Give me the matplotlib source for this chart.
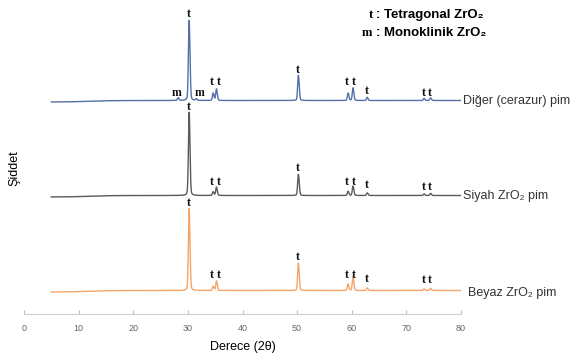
import numpy as np
import matplotlib.pyplot as plt

plt.rcParams['font.family'] = ['Liberation Sans', 'DejaVu Sans']

# peak positions (2 theta) and heights for the three patterns
peaks = [28.2, 30.2, 31.5, 34.6, 35.2, 50.2, 59.3, 60.2, 62.8, 73.2, 74.4]
h_diger = [2.5, 76, 1.5, 7, 11, 24, 7, 12, 3, 2, 2.5]
h_siyah = [0, 79, 0, 3.5, 8, 20, 4, 9, 2.5, 1.5, 2]
h_beyaz = [0, 78, 0, 4, 9, 26, 6, 13, 2.5, 1.5, 2]

names = ['Diğer (cerazur) pim', 'Siyah ZrO₂ pim', 'Beyaz ZrO₂ pim']
colors = ['#5570a8', '#5a5a5a', '#f5a56a']
offsets = [212, 117, 22]

# phase labels: symbol, 2theta, height above baseline per pattern
lab_sym = ['t', 'm', 'm', 't', 't', 't', 't', 't', 't', 't', 't']
lab_x = [30.2, 28.0, 32.1, 34.4, 35.6, 50.2, 59.0, 60.3, 62.8, 73.1, 74.2]
lab_diger = [88, 9, 9, 20, 20, 32, 20, 20, 11, 9, 9]
lab_siyah = [90, None, None, 15, 15, 29, 15, 15, 12, 10, 10]
lab_beyaz = [89, None, None, 17, 17, 35, 17, 17, 13, 12, 12]

x = np.arange(5, 80.001, 0.02)


def pattern(heights):
    y = 1.5 / (1 + np.exp(-(x - 12) / 2.0))  # slight amorphous rise
    for c, h in zip(peaks, heights):
        for cc, hh in ((c, h), (c + 0.15, h * 0.45)):
            g = np.exp(-0.5 * ((x - cc) / 0.12) ** 2)
            l = 1 / (1 + ((x - cc) / 0.14) ** 2)
            y = y + hh * (0.75 * g + 0.25 * l) / 1.17
    return y


fig = plt.figure(figsize=(5.77, 3.6), dpi=100)
ax = fig.add_axes([24 / 577, 46 / 360, 437 / 577, 304 / 360])

for i, (hts, labs, name, col, off) in enumerate(zip([h_diger, h_siyah, h_beyaz],
                                                    [lab_diger, lab_siyah, lab_beyaz],
                                                    names, colors, offsets)):
    y = pattern(hts) + off
    ax.plot(x, y, color=col, lw=1)
    for s, lx, lh in zip(lab_sym, lab_x, labs):
        if lh is None:
            continue
        ax.text(lx, off + lh, s, ha='center', va='center', fontsize=8.5,
                family='Liberation Serif', fontweight='bold', color='#111111')
    nx = 81.2 if i == 2 else 80.3
    ny = y[-1] - 3 if i == 2 else y[-1] - 0.5
    ax.text(nx, ny, name, ha='left', va='center', fontsize=9,
            color='#333333', clip_on=False)

ax.set_xlim(0, 80)
ax.set_ylim(0, 304)
ax.set_xticks(range(0, 81, 10))
ax.tick_params(axis='x', colors='#bfbfbf', labelcolor='#666666', labelsize=6.5,
               direction='in', length=3, pad=7)
ax.set_yticks([])
for sp in ['left', 'right', 'top']:
    ax.spines[sp].set_visible(False)
ax.spines['bottom'].set_color('#d0d0d0')
ax.set_xlabel('Derece (2θ)', fontsize=9, labelpad=6)

fig.text(14 / 577, 1 - 168 / 360, 'Şiddet', rotation=90, ha='center', va='center', fontsize=9)

# phase legend
fig.text(371 / 577, 1 - 15 / 360, 't', ha='center', va='center', fontsize=9,
         family='Liberation Serif', fontweight='bold')
fig.text(367 / 577, 1 - 33 / 360, 'm', ha='center', va='center', fontsize=9,
         family='Liberation Serif', fontweight='bold')
fig.text(376 / 577, 1 - 15 / 360, ': Tetragonal ZrO₂', ha='left', va='center',
         fontsize=9.5, fontweight='bold')
fig.text(376 / 577, 1 - 33 / 360, ': Monoklinik ZrO₂', ha='left', va='center',
         fontsize=9.5, fontweight='bold')

fig.savefig('out.png', dpi=100)
